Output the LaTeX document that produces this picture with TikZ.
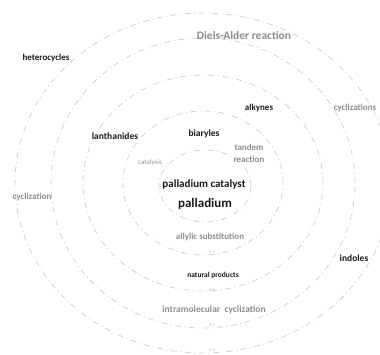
\documentclass[tikz,border=0pt]{standalone}
\usepackage{fontspec}
\setmainfont{Carlito}

\begin{document}
\begin{tikzpicture}[x=1pt, y=-1pt,
                    ring/.style={draw=black!18, line width=0.8pt,
                                 dash pattern=on 6pt off 3.5pt on 1pt off 3.5pt},
                    topic/.style={font=\fontsize{9}{10}\bfseries\selectfont, text=black!90},
                    method/.style={font=\fontsize{9}{10}\bfseries\selectfont, text=black!45},
                    tick/.style={font=\fontsize{4.5}{5}\selectfont, text=black!25}]
  \useasboundingbox (0, 0) rectangle (380, 354);

  % Rings.
  \draw [ring] (205, 186) ellipse [x radius=46pt, y radius=36pt];
  \draw [ring] (203, 183) ellipse [x radius=80pt, y radius=72pt];
  \draw [ring] (203, 183) ellipse [x radius=120pt, y radius=108pt];
  \draw [ring] (203, 183) ellipse [x radius=152pt, y radius=145pt];
  \draw [ring] (203, 183) ellipse [x radius=188pt, y radius=170pt];

  % Ring ticks.
  \node at (212, 252) [tick, name=TickEight] {8-7};
  \node at (212, 290) [tick, name=TickSix] {6-5};
  \node at (212, 325) [tick, name=TickFour] {4-3};
  \node at (212, 350) [tick, name=TickTwo] {2-1};

  % Centre.
  \node at (204, 185) [topic, font=\fontsize{11}{12}\bfseries\selectfont,
                       name=PalladiumCatalyst] {palladium catalyst};
  \node at (205, 204) [topic, font=\fontsize{13}{14}\bfseries\selectfont,
                       name=Palladium] {palladium};

  % Topics.
  \node at (46, 58) [topic, name=Heterocycles] {heterocycles};
  \node at (115, 136) [topic, font=\fontsize{9.5}{10}\bfseries\selectfont,
                       name=Lanthanides] {lanthanides};
  \node at (204, 134) [topic, font=\fontsize{9.5}{10}\bfseries\selectfont,
                       name=Biaryles] {biaryles};
  \node at (259, 108) [topic, name=Alkynes] {alkynes};
  \node at (213, 275) [topic, font=\fontsize{7.5}{8}\bfseries\selectfont,
                       name=NaturalProducts] {natural products};
  \node at (354, 258) [topic, font=\fontsize{9.5}{10}\bfseries\selectfont,
                       name=Indoles] {indoles};

  % Methods.
  \node at (244, 35) [method, font=\fontsize{11.5}{12}\bfseries\selectfont,
                      name=DielsAlder] {Diels-Alder reaction};
  \node at (355, 108) [method, name=Cyclizations] {cyclizations};
  \node at (32, 197) [method, name=Cyclization] {cyclization};
  \node at (249, 153) [method, align=center, font=\fontsize{9}{12}\bfseries\selectfont,
                       name=Tandem] {tandem\\reaction};
  \node at (150, 163) [method, font=\fontsize{7}{8}\selectfont, text=black!45,
                       name=Catalysis] {catalysis};
  \node at (210, 237) [method, name=Allylic] {allylic substitution};
  \node at (214, 310) [method, font=\fontsize{9.5}{10}\bfseries\selectfont,
                       name=Intramolecular] {intramolecular\ \ cyclization};
\end{tikzpicture}
\end{document}
